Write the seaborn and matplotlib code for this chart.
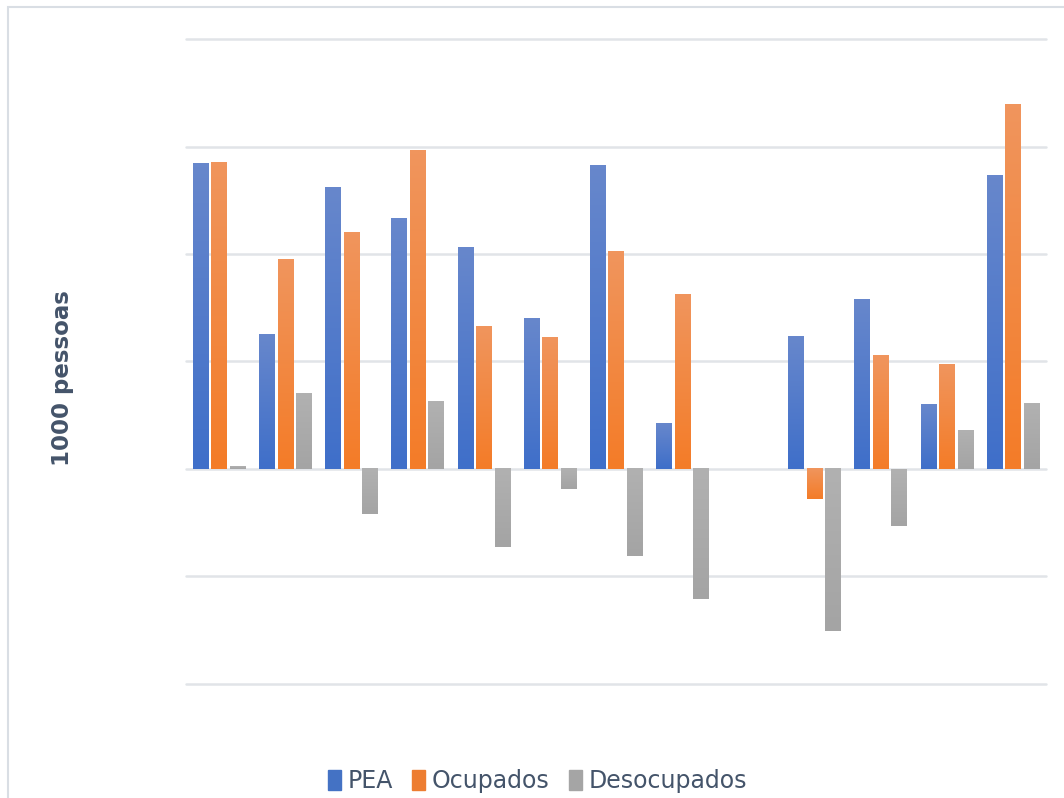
import numpy as np
import pandas as pd
import matplotlib
matplotlib.use("Agg")
import matplotlib.pyplot as plt
import matplotlib.colors as mcolors
from matplotlib.patches import Rectangle
import seaborn as sns

# valores em 1000 pessoas
categorias = ["C1", "C2", "C3", "C4", "C5", "C6", "C7", "C8", "C9", "C10", "C11", "C12", "C13"]
pea = [284, 125, 262, 233, 206, 140, 282, 42, 0, 123, 158, 60, 273]
ocupados = [285, 195, 220, 296, 133, 122, 202, 162, 0, -28, 106, 97, 339]
desocupados = [2, 70, -42, 63, -73, -19, -81, -121, 0, -151, -53, 36, 61]
series = ["PEA", "Ocupados", "Desocupados"]

df = pd.DataFrame({
    "categoria": categorias * 3,
    "serie": np.repeat(series, len(categorias)),
    "valor": pea + ocupados + desocupados,
})

cores = {"PEA": "#4472C4", "Ocupados": "#ED7D31", "Desocupados": "#A5A5A5"}
cores_topo = {"PEA": "#6787CC", "Ocupados": "#F0955D", "Desocupados": "#B1B1B1"}
cores_base = {"PEA": "#3F6FC9", "Ocupados": "#F47C28", "Desocupados": "#A4A4A4"}
texto = "#44546A"

sns.set_style("white")
plt.rcParams["font.family"] = ["DejaVu Sans"]

fig = plt.figure(figsize=(10.64, 7.98), dpi=100)
ax = fig.add_axes([0.1748, 0.1429, 0.983 - 0.1748, 0.9511 - 0.1429])

sns.barplot(data=df, x="categoria", y="valor", hue="serie", palette=cores,
            width=0.84, gap=0.18, ax=ax, legend=False, saturation=1)

# gradiente tipo Excel em cada barra
hue_idx = []
for s in series:
    hue_idx += [s] * len(categorias)
for patch, s in zip(ax.patches, hue_idx):
    patch.set_visible(False)
    h = patch.get_height()
    if h == 0:
        continue
    x0 = patch.get_x()
    w = patch.get_width()
    y0 = patch.get_y()
    cmap = mcolors.LinearSegmentedColormap.from_list("g", [cores_base[s], cores_topo[s]])
    grad = np.linspace(0, 1, 64).reshape(-1, 1)
    ylo, yhi = min(y0, y0 + h), max(y0, y0 + h)
    ax.imshow(grad, extent=[x0, x0 + w, ylo, yhi], origin="lower",
              cmap=cmap, aspect="auto", zorder=2, interpolation="bilinear")

ax.set_xlim(-0.5, len(categorias) - 0.5)
ax.set_ylim(-200, 400)
ax.set_yticks(range(-200, 401, 100))
ax.yaxis.grid(True, color="#E1E4E8", linewidth=1.8)
for gl in ax.get_ygridlines():
    gl.set_clip_on(False)
ax.set_axisbelow(True)
ax.tick_params(length=0, labelleft=False, labelbottom=False)
for sp in ax.spines.values():
    sp.set_visible(False)
ax.set_xlabel("")
ax.set_ylabel("")

fig.text(0.059, 0.526, "1000 pessoas", rotation=90, ha="center", va="center",
         fontsize=16.5, fontweight="bold", color=texto)

# moldura do gráfico
fig.patches.append(Rectangle((8 / 1064, -0.05), 1.2, 1 - 7 / 798 + 0.05,
                             transform=fig.transFigure, fill=False,
                             edgecolor="#D9DEE4", linewidth=1.5))

handles = [Rectangle((0, 0), 1, 1, color=cores[s]) for s in series]
fig.legend(handles, series, loc="center", bbox_to_anchor=(0.505, 0.021),
           ncol=3, frameon=False, fontsize=17, labelcolor=texto,
           handlelength=0.55, handleheight=0.9, handletextpad=0.3,
           columnspacing=0.8)

fig.savefig("out.png", dpi=100)
